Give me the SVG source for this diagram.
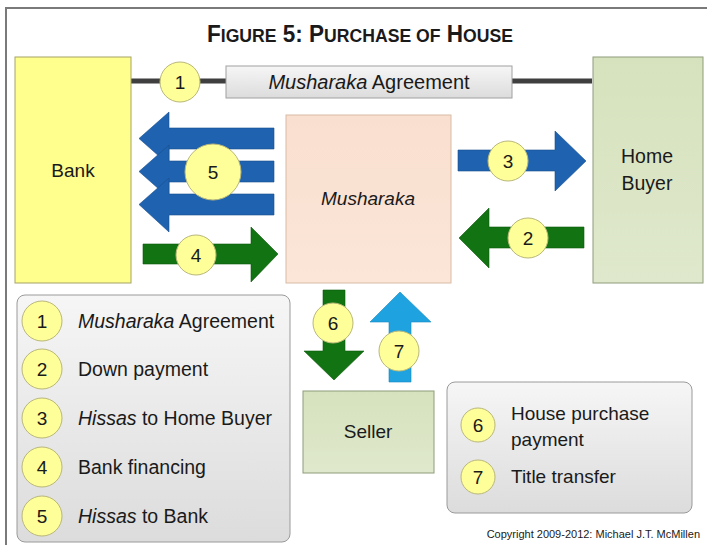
<svg xmlns="http://www.w3.org/2000/svg" width="707" height="545" viewBox="0 0 707 545">
<defs>
<linearGradient id="gGray" x1="0" y1="0" x2="0" y2="1"><stop offset="0" stop-color="#f6f6f6"/><stop offset="1" stop-color="#dcdcdc"/></linearGradient>
<linearGradient id="gPeach" x1="0" y1="0" x2="0" y2="1"><stop offset="0" stop-color="#f9dfcf"/><stop offset="1" stop-color="#fbe6d8"/></linearGradient>
<linearGradient id="gGreen" x1="0" y1="0" x2="0" y2="1"><stop offset="0" stop-color="#d6e2bd"/><stop offset="1" stop-color="#dfe8cc"/></linearGradient>
<style>
.t{font-family:"Liberation Sans",Arial,sans-serif;fill:#1a1a1a}
.c{fill:#ffff99;stroke:#b9b77a;stroke-width:1}
.n{font-family:"Liberation Sans",Arial,sans-serif;font-size:19px;fill:#1a1a1a;text-anchor:middle}
.blue{fill:#1f63b0;stroke:#174f8f;stroke-width:0.6}
.green{fill:#127312;stroke:#0d5a0d;stroke-width:0.6}
.lblue{fill:#1ea3e0;stroke:#1888bd;stroke-width:0.6}
.it{font-style:italic}
</style>
</defs>
<rect width="707" height="545" fill="#ffffff"/>
<path d="M6,545 V8 H707" fill="none" stroke="#7a7a7a" stroke-width="2"/>
<text class="t" x="360" y="42" text-anchor="middle" font-weight="bold" textLength="306" lengthAdjust="spacingAndGlyphs"><tspan font-size="23">F</tspan><tspan font-size="18">IGURE</tspan><tspan font-size="23"> 5: P</tspan><tspan font-size="18">URCHASE OF</tspan><tspan font-size="23"> H</tspan><tspan font-size="18">OUSE</tspan></text>

<g id="connectors">
<line x1="131" y1="81" x2="592" y2="81" stroke="#3f3f3f" stroke-width="5"/>
<path class="blue" d="M274,128 L169,128 L169,112 L139,138.5 L169,165 L169,149 L274,149 Z"/>
<path class="blue" d="M274,161 L169,161 L169,145 L139,171.5 L169,198 L169,182 L274,182 Z"/>
<path class="blue" d="M274,194 L169,194 L169,178 L139,204.5 L169,232 L169,215 L274,215 Z"/>
<path class="green" d="M143,244 L251,244 L251,227 L278,254 L251,282 L251,264 L143,264 Z"/>
<path class="blue" d="M458,150 L555,150 L555,131 L586,161 L555,191 L555,171 L458,171 Z"/>
<path class="green" d="M584,227 L489,227 L489,208 L459,238 L489,268 L489,248 L584,248 Z"/>
<path class="green" d="M323,290 L345,290 L345,351 L364,351 L334,380 L304,351 L323,351 Z"/>
<path class="lblue" d="M389,382 L411,382 L411,322 L431,322 L400,292 L370,322 L389,322 Z"/>
<circle class="c" cx="180" cy="82" r="20"/><text class="n" x="180" y="89">1</text>
<circle class="c" cx="213" cy="172" r="28"/><text class="n" x="213" y="179">5</text>
<circle class="c" cx="196" cy="255" r="20"/><text class="n" x="196" y="262">4</text>
<circle class="c" cx="508" cy="161" r="20"/><text class="n" x="508" y="168">3</text>
<circle class="c" cx="528" cy="238" r="20"/><text class="n" x="528" y="245">2</text>
<circle class="c" cx="333" cy="323" r="20"/><text class="n" x="333" y="330">6</text>
<circle class="c" cx="399" cy="351" r="20"/><text class="n" x="399" y="358">7</text>
</g>

<g id="agreement">
<rect x="226" y="66" width="286" height="32" fill="url(#gGray)" stroke="#a0a0a0"/>
<text class="t" x="369" y="89" font-size="20" text-anchor="middle"><tspan class="it">Musharaka</tspan> Agreement</text>
</g>

<g id="bank">
<rect x="15" y="57" width="116" height="226" fill="#ffff8e" stroke="#a5a365"/>
<text class="t" x="73" y="177" font-size="19" text-anchor="middle">Bank</text>
</g>

<g id="homebuyer">
<rect x="593" y="57" width="110" height="226" fill="url(#gGreen)" stroke="#8e9c7a"/>
<text class="t" x="647" y="163" font-size="19.5" text-anchor="middle">Home</text>
<text class="t" x="647" y="190" font-size="19.5" text-anchor="middle">Buyer</text>
</g>

<g id="musharaka">
<rect x="286" y="115" width="165" height="168" fill="url(#gPeach)" stroke="#d9bba6"/>
<text class="t it" x="368" y="205" font-size="19" text-anchor="middle">Musharaka</text>
</g>

<g id="seller">
<rect x="303" y="391" width="131" height="82" fill="url(#gGreen)" stroke="#8e9c7a"/>
<text class="t" x="368" y="438" font-size="19" text-anchor="middle">Seller</text>
</g>

<g id="legend-left">
<rect x="17" y="295" width="273" height="247" rx="8" fill="url(#gGray)" stroke="#9a9a9a"/>
<circle class="c" cx="42" cy="321" r="20"/><text class="n" x="42" y="328">1</text>
<circle class="c" cx="42" cy="369" r="20"/><text class="n" x="42" y="376">2</text>
<circle class="c" cx="42" cy="418" r="20"/><text class="n" x="42" y="425">3</text>
<circle class="c" cx="42" cy="467" r="20"/><text class="n" x="42" y="474">4</text>
<circle class="c" cx="42" cy="516" r="20"/><text class="n" x="42" y="523">5</text>
<text class="t" x="78" y="328" font-size="19.5"><tspan class="it">Musharaka</tspan> Agreement</text>
<text class="t" x="78" y="376" font-size="19.5">Down payment</text>
<text class="t" x="78" y="425" font-size="19.5"><tspan class="it">Hissas</tspan> to Home Buyer</text>
<text class="t" x="78" y="474" font-size="19.5">Bank financing</text>
<text class="t" x="78" y="523" font-size="19.5"><tspan class="it">Hissas</tspan> to Bank</text>
</g>

<g id="legend-right">
<rect x="447" y="382" width="245" height="131" rx="8" fill="url(#gGray)" stroke="#9a9a9a"/>
<circle class="c" cx="478" cy="425" r="17"/><text class="n" x="478" y="432">6</text>
<circle class="c" cx="478" cy="477" r="17"/><text class="n" x="478" y="484">7</text>
<text class="t" x="511" y="420" font-size="19">House purchase</text>
<text class="t" x="511" y="446" font-size="19">payment</text>
<text class="t" x="511" y="483" font-size="19">Title transfer</text>
</g>

<text class="t" x="700" y="538" font-size="11" text-anchor="end" fill="#333">Copyright 2009-2012: Michael J.T. McMillen</text>
</svg>
